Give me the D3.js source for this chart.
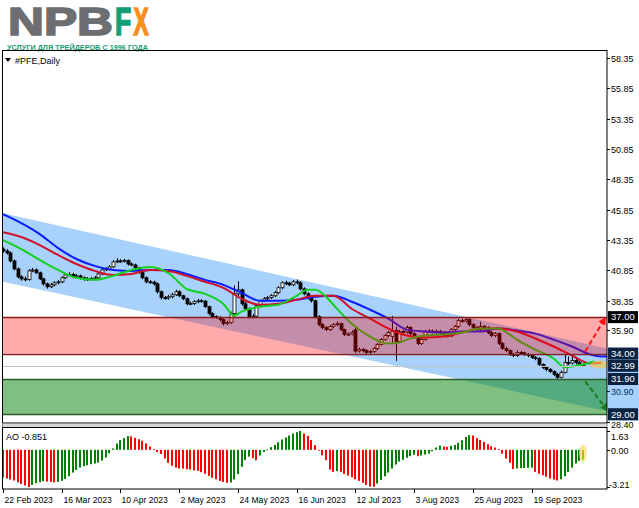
<!DOCTYPE html>
<html><head><meta charset="utf-8">
<script src="https://cdn.jsdelivr.net/npm/d3@7"></script>
<style>html,body{margin:0;padding:0;background:#fff;}svg{display:block;font-family:"Liberation Sans",Arial,sans-serif;}</style>
</head><body><svg id="c" width="639" height="508"></svg>
<script>
// ---------------- DATA ----------------
const symbolTitle = "#PFE,Daily";
const dateTickLabels = ["22 Feb 2023","16 Mar 2023","10 Apr 2023","2 May 2023","24 May 2023","16 Jun 2023","12 Jul 2023","3 Aug 2023","25 Aug 2023","19 Sep 2023"];
const dateTickIdx = [0,16,32,48,64,80,96,112,128,144];
const priceTicks = [58.35,55.85,53.35,50.85,48.35,45.85,43.35,40.85,38.35,35.90,30.90,28.40];
const aoTicks = [1.63,0.00,-3.21];
const aoLabel = "AO -0.851";

const open = [
42.60,42.45,42.29,41.63,40.97,40.32,40.15,40.10,40.81,40.89,
40.65,40.15,39.74,39.50,39.66,39.83,39.91,40.24,40.48,40.52,
40.32,40.40,40.24,40.15,40.12,40.18,40.24,40.56,40.89,40.97,
41.14,41.55,41.63,41.60,41.66,41.38,41.30,41.06,40.73,40.24,
39.91,39.88,39.74,39.09,38.60,38.58,38.68,38.84,39.09,38.76,
38.51,38.10,38.12,38.27,38.35,38.32,37.86,37.29,37.04,36.96,
36.79,36.46,36.55,37.29,38.92,39.25,38.10,37.69,37.04,37.08,
37.94,38.35,38.51,38.60,38.76,39.01,39.42,39.83,39.80,39.66,
39.91,39.83,39.33,38.92,38.60,38.35,37.04,36.38,36.14,35.97,
36.22,36.38,36.46,35.97,35.56,35.60,35.95,34.20,34.33,34.25,
34.09,34.17,34.42,34.74,35.15,35.48,35.40,35.90,35.00,35.81,
35.78,36.14,35.64,35.32,34.82,35.15,35.81,35.85,35.78,35.83,
35.73,35.48,35.45,35.97,36.22,36.71,36.68,36.79,36.38,36.14,
35.97,36.22,36.14,35.73,35.48,35.64,34.82,34.42,34.25,33.92,
33.84,34.09,34.05,33.92,33.84,33.68,33.59,33.10,32.86,32.69,
32.53,32.29,32.04,32.45,33.27,33.22,33.43,33.27,33.10];
const high = [
42.75,42.60,42.40,41.75,41.10,40.45,40.35,40.95,41.05,41.00,
40.75,40.25,39.85,39.80,39.95,40.05,40.35,40.60,40.70,40.65,
40.55,40.50,40.35,40.30,40.32,40.38,40.68,41.00,41.10,41.30,
41.70,41.85,41.78,41.80,41.75,41.50,41.40,41.15,40.85,40.35,
40.05,40.00,39.85,39.20,38.75,38.85,39.00,39.25,39.20,38.85,
38.60,38.28,38.40,38.50,38.48,38.40,37.95,37.40,37.15,37.10,
36.90,36.70,37.45,39.60,39.95,39.35,38.25,37.80,37.25,38.05,
38.45,38.65,38.75,38.90,39.15,39.55,39.95,40.00,39.90,40.05,
40.10,39.95,39.45,39.05,38.70,38.45,37.15,36.50,36.25,36.35,
36.50,36.65,36.55,36.05,35.75,35.90,36.10,34.50,34.45,34.35,
34.30,34.55,34.88,35.28,35.60,35.88,37.10,36.20,35.95,35.95,
36.30,36.25,35.75,35.40,35.30,35.95,36.00,35.98,35.98,35.95,
35.85,35.60,36.10,36.35,36.85,36.85,36.95,36.90,36.50,36.25,
36.60,36.35,36.25,35.85,35.78,35.75,34.95,34.55,34.35,34.05,
34.25,34.22,34.15,34.05,33.95,33.80,33.70,33.20,32.95,32.80,
32.62,32.40,32.60,33.95,33.75,33.90,33.55,33.40,33.20];
const low = [
42.30,42.15,41.50,40.85,40.20,40.00,39.95,40.00,40.70,40.55,
40.05,39.60,39.35,39.40,39.55,39.70,39.80,40.15,40.35,40.20,
40.20,40.10,40.00,39.98,40.00,40.05,40.15,40.45,40.80,40.85,
41.05,41.45,41.48,41.50,41.25,41.18,40.95,40.60,40.12,39.78,
39.75,39.60,38.95,38.45,38.45,38.45,38.55,38.75,38.65,38.40,
37.98,37.98,38.00,38.15,38.20,37.75,37.15,36.90,36.85,36.65,
36.30,36.35,36.45,37.20,38.70,37.95,37.55,36.90,36.90,37.00,
37.85,38.25,38.40,38.50,38.65,38.90,39.30,39.65,39.55,39.55,
39.70,39.20,38.80,38.45,38.20,36.90,36.25,36.00,35.85,35.85,
36.10,36.25,35.85,35.45,35.45,35.50,34.05,34.08,34.10,33.95,
33.98,34.05,34.30,34.65,35.05,35.35,34.90,33.40,34.90,35.65,
35.65,35.50,35.20,34.70,34.70,35.05,35.70,35.65,35.65,35.60,
35.35,35.32,35.35,35.85,36.10,36.55,36.55,36.25,36.00,35.85,
35.85,36.00,35.60,35.35,35.35,34.70,34.30,34.10,33.80,33.70,
33.72,33.92,33.80,33.70,33.55,33.45,32.95,32.72,32.55,32.40,
32.15,31.90,31.95,32.35,33.05,33.10,33.10,32.95,32.90];
const close = [
42.45,42.29,41.63,40.97,40.32,40.15,40.10,40.81,40.89,40.65,
40.15,39.74,39.50,39.66,39.83,39.91,40.24,40.48,40.52,40.32,
40.40,40.24,40.15,40.12,40.18,40.24,40.56,40.89,40.97,41.14,
41.55,41.63,41.60,41.66,41.38,41.30,41.06,40.73,40.24,39.91,
39.88,39.74,39.09,38.60,38.58,38.68,38.84,39.09,38.76,38.51,
38.10,38.12,38.27,38.35,38.32,37.86,37.29,37.04,36.96,36.79,
36.46,36.55,37.29,38.92,39.25,38.10,37.69,37.04,37.08,37.94,
38.35,38.51,38.60,38.76,39.01,39.42,39.83,39.80,39.66,39.91,
39.83,39.33,38.92,38.60,38.35,37.04,36.38,36.14,35.97,36.22,
36.38,36.46,35.97,35.56,35.60,35.73,34.20,34.33,34.25,34.09,
34.17,34.42,34.74,35.15,35.48,35.73,35.81,35.00,35.81,35.78,
36.14,35.64,35.32,34.82,35.15,35.81,35.85,35.78,35.83,35.73,
35.48,35.45,35.97,36.22,36.71,36.68,36.79,36.38,36.14,35.97,
36.22,36.14,35.73,35.48,35.64,34.82,34.42,34.25,33.92,33.84,
34.09,34.05,33.92,33.84,33.68,33.59,33.10,32.86,32.69,32.53,
32.29,32.04,32.45,33.27,33.22,33.43,33.27,33.10,33.02];

// Alligator lines (bar index, price)
const jawIdx = [0,5,10,15,20,25,30,35,40,45,50,55,60,65,70,75,80,85,90,95,100,105,110,115,120,125,130,135,140,145,150,155,160,163,166];
const jawVal = [45.48,44.74,43.84,42.69,41.79,41.22,40.89,40.81,40.89,40.89,40.56,40.07,39.66,39.00,38.35,38.35,38.43,38.68,38.76,38.27,37.61,36.87,35.97,35.81,35.73,35.81,35.81,36.06,35.89,35.64,35.15,34.58,33.92,33.76,33.76];
const teethIdx = [0,5,10,15,20,25,30,35,40,45,50,55,60,65,70,75,80,85,90,95,100,105,110,115,120,125,130,135,140,145,150,155,160,163];
const teethVal = [44.00,43.60,42.94,42.12,41.38,40.81,40.48,40.56,40.89,40.81,40.40,39.91,39.42,38.51,38.02,38.10,38.43,38.76,38.76,37.69,36.87,36.06,35.48,35.32,35.40,35.73,36.06,36.06,35.81,35.24,34.58,33.84,33.19,33.27];
const lipsIdx = [0,5,10,15,20,25,30,35,40,45,50,55,60,63,65,70,75,80,83,85,88,90,95,100,105,108,110,115,120,125,130,135,138,140,145,150,153,155,158,161];
const lipsVal = [43.35,42.61,41.71,40.89,40.24,40.07,40.40,40.89,41.14,40.65,39.33,38.92,38.10,37.12,37.45,37.86,38.02,38.76,39.25,39.25,38.68,38.02,36.46,35.40,34.82,34.91,35.15,35.48,35.56,35.73,36.06,36.06,35.56,35.15,34.33,33.59,32.86,32.94,33.10,33.35];

// Awesome Oscillator
const aoValues = [
-2.39,-2.48,-2.56,-2.65,-2.80,-2.94,-3.08,-3.21,-3.03,-2.88,
-2.80,-2.71,-2.74,-2.77,-2.80,-2.77,-2.68,-2.51,-2.28,-1.96,
-1.73,-1.53,-1.41,-1.33,-1.24,-1.18,-1.10,-0.92,-0.66,-0.30,
0.12,0.55,0.84,1.01,1.20,1.16,1.04,0.92,0.78,0.55,
0.29,0.06,-0.20,-0.35,-0.75,-1.12,-1.38,-1.53,-1.61,-1.62,
-1.67,-1.70,-1.76,-1.82,-1.93,-2.07,-2.25,-2.42,-2.54,-2.68,
-2.77,-2.85,-2.82,-2.56,-2.10,-1.47,-0.89,-0.58,-0.72,-0.89,
-0.49,-0.17,0.03,0.23,0.43,0.66,0.89,1.07,1.24,1.41,
1.53,1.63,1.41,1.21,0.84,0.40,-0.03,-0.46,-0.89,-1.70,
-1.90,-1.84,-1.90,-2.07,-2.22,-2.36,-2.54,-2.68,-2.85,-3.03,
-3.17,-3.20,-2.91,-2.59,-2.28,-1.96,-1.61,-1.27,-1.01,-0.86,
-0.69,-0.55,-0.43,-0.55,-0.49,-0.40,-0.32,-0.12,0.20,0.37,
0.29,0.26,0.35,0.43,0.61,0.84,1.12,1.27,1.24,1.01,
0.86,0.69,0.49,0.32,0.20,0.06,-0.32,-0.75,-1.12,-1.65,
-1.60,-1.58,-1.57,-1.55,-1.54,-1.90,-2.05,-2.19,-2.33,-2.48,
-2.56,-2.65,-2.54,-2.28,-1.90,-1.53,-1.18,-0.95,-0.85];

// Analysis objects
const channelIdx = [0,164.6];
const channelTop = [45.56,34.42];
const channelBottom = [39.91,29.25];
const resistanceZone = [34.00,37.00];
const supportZone = [29.00,31.90];
const lastPrice = 32.99;
const boxedLabels = [37.00,34.00,32.99,31.90,29.00];
const upArrow = {from:[158.6,34.17], to:[164.0,36.90]};
const downArrow = {from:[158.6,31.71], to:[164.6,29.33]};

// ---------------- DRAW ----------------
const svg = d3.select('#c');
const W = 639, H = 508;
const L = 3, R = 607, mainTop = 51, mainBot = 423, aoTop = 428, aoBot = 489;
const x = d3.scaleLinear().domain([0,158]).range([3,583]);
const y = d3.scaleLinear().domain([28.40,58.35]).range([421.5,58]);
const ya = d3.scaleLinear().domain([-3.21,1.63]).range([487,431]);

svg.append('rect').attr('width',W).attr('height',H).attr('fill','#fff');

const defs = svg.append('defs');
defs.append('clipPath').attr('id','cm').append('rect').attr('x',L).attr('y',mainTop).attr('width',R-L).attr('height',mainBot-mainTop);
defs.append('clipPath').attr('id','ca').append('rect').attr('x',L).attr('y',aoTop).attr('width',R-L).attr('height',aoBot-aoTop);
function marker(id,color){
  defs.append('marker').attr('id',id).attr('viewBox','0 0 10 10').attr('refX',8).attr('refY',5)
    .attr('markerWidth',4).attr('markerHeight',4).attr('orient','auto').attr('markerUnits','strokeWidth')
    .append('path').attr('d','M0,0 L10,5 L0,10 z').attr('fill',color);
}
marker('mr','#ff1010'); marker('mg','#1d7a1d');

// Logo (letters sized with a horizontal scale so their boxes match their ink)
const logo = svg.append('g');
function logoText(t,x0,sx,color){
  logo.append('text').attr('transform',`translate(${x0},35) scale(${sx},1)`).attr('x',0).attr('y',0)
    .attr('font-size',38).attr('font-weight','bold')
    .attr('fill',color).attr('stroke',color).attr('stroke-width',1.6).text(t);
}
logoText('NPB',8,1.31,'#6d6e71');
logoText('F',115,0.70,'#139e76');
logoText('X',133.5,0.60,'#f7901e');
logo.append('text').attr('x',7).attr('y',50).attr('font-size',7.4).attr('font-weight','bold')
  .attr('fill','#1a9a6c').attr('textLength',141).attr('lengthAdjust','spacingAndGlyphs').text('УСЛУГИ ДЛЯ ТРЕЙДЕРОВ С 1996 ГОДА');

// Main panel
const gm = svg.append('g').attr('clip-path','url(#cm)');
const idx = d3.range(close.length);

// Channel (behind price)
gm.append('path').attr('d',d3.line()([
  [x(channelIdx[0]),y(channelTop[0])],[x(channelIdx[1]),y(channelTop[1])],
  [x(channelIdx[1]),y(channelBottom[1])],[x(channelIdx[0]),y(channelBottom[0])]])+'Z')
  .attr('fill','rgba(0,122,245,0.34)');

// candles
gm.append('g').selectAll('line').data(idx).join('line')
  .attr('x1',i=>Math.round(x(i))+0.5).attr('x2',i=>Math.round(x(i))+0.5)
  .attr('y1',i=>y(high[i])).attr('y2',i=>y(low[i]))
  .attr('stroke','#000').attr('stroke-width',1);
gm.append('g').selectAll('rect').data(idx).join('rect')
  .attr('x',i=>Math.round(x(i))-1).attr('width',3)
  .attr('y',i=>y(Math.max(open[i],close[i])))
  .attr('height',i=>Math.max(1,Math.abs(y(open[i])-y(close[i]))))
  .attr('fill',i=>close[i]>=open[i]?'#fff':'#000')
  .attr('stroke','#000').attr('stroke-width',0.8);

// Alligator
const ln = d3.line().x(d=>x(d[0])).y(d=>y(d[1])).curve(d3.curveMonotoneX);
gm.append('path').attr('d',ln(jawIdx.map((v,k)=>[v,jawVal[k]]))).attr('fill','none').attr('stroke','#0a1cff').attr('stroke-width',2);
gm.append('path').attr('d',ln(teethIdx.map((v,k)=>[v,teethVal[k]]))).attr('fill','none').attr('stroke','#d0102a').attr('stroke-width',2);
gm.append('path').attr('d',ln(lipsIdx.map((v,k)=>[v,lipsVal[k]]))).attr('fill','none').attr('stroke','#12d01e').attr('stroke-width',2);

// zones (over price)
gm.append('rect').attr('x',L).attr('width',R-L).attr('y',y(resistanceZone[1])).attr('height',y(resistanceZone[0])-y(resistanceZone[1]))
  .attr('fill','rgba(255,0,0,0.33)');
gm.append('rect').attr('x',L).attr('width',R-L).attr('y',y(supportZone[1])).attr('height',y(supportZone[0])-y(supportZone[1]))
  .attr('fill','rgba(0,128,0,0.5)');
[[resistanceZone[0],'#8a1c1c'],[resistanceZone[1],'#8a1c1c'],[supportZone[0],'#2a5e2a'],[supportZone[1],'#2a5e2a']].forEach(([v,c])=>{
  gm.append('line').attr('x1',L).attr('x2',R).attr('y1',Math.round(y(v))+0.5).attr('y2',Math.round(y(v))+0.5).attr('stroke',c).attr('stroke-width',1.3);
});
gm.append('line').attr('x1',L).attr('x2',R).attr('y1',Math.round(y(lastPrice))+0.5).attr('y2',Math.round(y(lastPrice))+0.5).attr('stroke','#c4c4c4').attr('stroke-width',1);

// highlight ellipse
gm.append('ellipse').attr('cx',x(162.5)).attr('cy',y(33.1)).attr('rx',9).attr('ry',4).attr('fill','rgba(250,200,60,0.6)');

// arrows
gm.append('line').attr('x1',x(upArrow.from[0])).attr('y1',y(upArrow.from[1])).attr('x2',x(upArrow.to[0])).attr('y2',y(upArrow.to[1]))
  .attr('stroke','#ff1010').attr('stroke-width',2).attr('stroke-dasharray','5,3').attr('marker-end','url(#mr)');
gm.append('line').attr('x1',x(downArrow.from[0])).attr('y1',y(downArrow.from[1])).attr('x2',x(downArrow.to[0])).attr('y2',y(downArrow.to[1]))
  .attr('stroke','#1d7a1d').attr('stroke-width',2).attr('stroke-dasharray','5,3').attr('marker-end','url(#mg)');

// title
svg.append('path').attr('d','M5,58 L11,58 L8,62 Z').attr('fill','#000');
svg.append('text').attr('x',15).attr('y',63.5).attr('font-size',9).attr('fill','#000').text(symbolTitle);

// AO panel
const ga = svg.append('g').attr('clip-path','url(#ca)');
ga.append('g').selectAll('rect').data(idx).join('rect')
  .attr('x',i=>Math.round(x(i))-1).attr('width',2)
  .attr('y',i=>Math.min(ya(0),ya(aoValues[i])))
  .attr('height',i=>Math.max(0.8,Math.abs(ya(aoValues[i])-ya(0))))
  .attr('fill',i=>(i>0 && aoValues[i]>aoValues[i-1])?'#008000':'#ff0000');
ga.append('ellipse').attr('cx',x(158)).attr('cy',ya(-0.3)).attr('rx',4).attr('ry',9).attr('fill','rgba(255,220,100,0.65)');
svg.append('text').attr('x',6).attr('y',440).attr('font-size',9).attr('fill','#000').text(aoLabel);

// frames
svg.append('rect').attr('x',2.5).attr('y',50.5).attr('width',R-2.5).attr('height',mainBot-50.5).attr('fill','none').attr('stroke','#000');
svg.append('rect').attr('x',2.5).attr('y',423.5).attr('width',R-2.5).attr('height',4).attr('fill','#d6d6d6').attr('stroke','#8a8a8a');
svg.append('rect').attr('x',2.5).attr('y',427.5).attr('width',R-2.5).attr('height',aoBot-427.5).attr('fill','none').attr('stroke','#000');

// right axis main
const ax = svg.append('g').attr('font-size',9).attr('fill','#000');
priceTicks.forEach(v=>{
  const yy = Math.round(y(v))+0.5;
  ax.append('line').attr('x1',R).attr('x2',R+3).attr('y1',yy).attr('y2',yy).attr('stroke','#000');
  const ty = v===28.40 ? yy+5 : yy+3.5;
  ax.append('text').attr('x',611).attr('y',ty).text(v.toFixed(2));
});
svg.append('rect').attr('x',R+1).attr('width',W-R-1).attr('y',y(34.42)).attr('height',y(28.45)-y(34.42)).attr('fill','rgba(0,122,245,0.34)');
boxedLabels.forEach(v=>{
  const yy = y(v);
  svg.append('rect').attr('x',608).attr('y',yy-6).attr('width',30).attr('height',12).attr('fill',v===37.00?'#000':'#0b2340');
  svg.append('text').attr('x',611).attr('y',yy+3.3).attr('font-size',9.5).attr('fill','#fff').text(v.toFixed(2));
});
// AO axis
aoTicks.forEach((v,k)=>{
  const yy = [436,450,484][k];
  svg.append('line').attr('x1',R).attr('x2',R+3).attr('y1',Math.round(ya(v))+0.5).attr('y2',Math.round(ya(v))+0.5).attr('stroke','#000');
  svg.append('text').attr('x',v<0?609:611).attr('y',yy+3.5).attr('font-size',9).attr('fill','#000').text(v.toFixed(2));
});

// date axis
dateTickIdx.forEach((v,k)=>{
  const xx = Math.round(x(v))+0.5;
  svg.append('line').attr('x1',xx).attr('x2',xx).attr('y1',aoBot).attr('y2',aoBot+4).attr('stroke','#000');
  svg.append('text').attr('x',xx+1).attr('y',503).attr('font-size',8.6).attr('fill','#000').text(dateTickLabels[k]);
});
</script></body></html>
